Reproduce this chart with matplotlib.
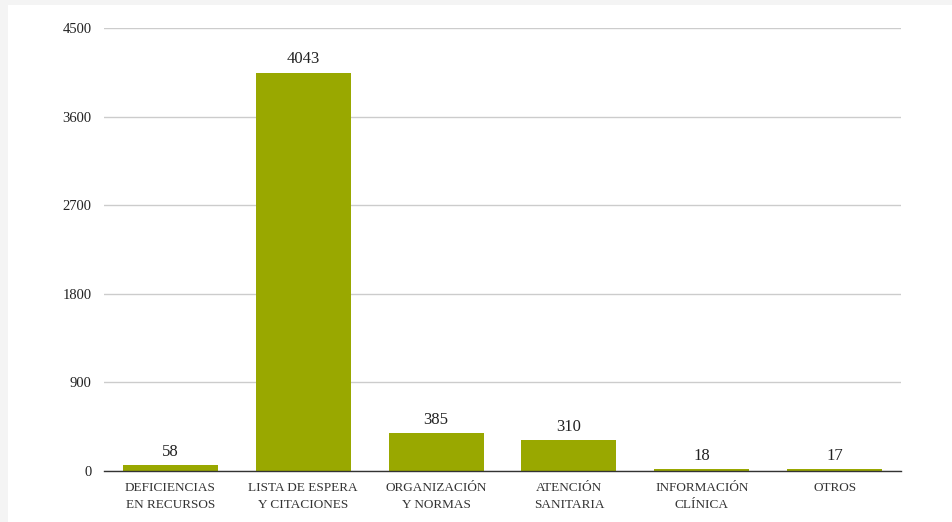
import matplotlib.pyplot as plt
from matplotlib.patches import Rectangle

categories = ["DEFICIENCIAS\nEN RECURSOS", "LISTA DE ESPERA\nY CITACIONES", "ORGANIZACIÓN\nY NORMAS",
              "ATENCIÓN\nSANITARIA", "INFORMACIÓN\nCLÍNICA", "OTROS"]
values = [58, 4043, 385, 310, 18, 17]
yticks = [0, 900, 1800, 2700, 3600, 4500]

plt.rcParams['font.family'] = ['Liberation Serif', 'DejaVu Serif']

fig = plt.figure(figsize=(9.53, 5.22), dpi=100, facecolor='#f4f4f4')
# white card behind the chart
fig.patches.append(Rectangle((8 / 953, 0), 1, 1 - 5 / 522, transform=fig.transFigure,
                             facecolor='white', edgecolor='none', zorder=-10))
ax = fig.add_axes([104 / 953, 1 - 471 / 522, 797 / 953, 443 / 522])
ax.set_facecolor('none')
ax.set_zorder(5)

x = range(len(categories))
bars = ax.bar(x, values, width=0.715, color='#99a800', zorder=3)
for b, v in zip(bars, values):
    ax.annotate(str(v), (b.get_x() + b.get_width() / 2, v), xytext=(0, 4),
                textcoords='offset points', ha='center', va='bottom',
                fontsize=12, color='#222222')

ax.set_xlim(-0.5, len(categories) - 0.5)
ax.set_ylim(0, 4500)
ax.set_yticks(yticks)
ax.set_yticklabels([str(t) for t in yticks], fontsize=10.5, color='#222222')
ax.set_xticks(list(x))
ax.set_xticklabels(categories, fontsize=9.5, color='#333333', linespacing=1.5)
ax.tick_params(axis='both', length=0)
ax.tick_params(axis='y', pad=9)
ax.tick_params(axis='x', pad=8)
ax.grid(axis='y', color='#cccccc', linewidth=1, zorder=0)
for s in ['top', 'right', 'left']:
    ax.spines[s].set_visible(False)
ax.spines['bottom'].set_color('#333333')
ax.spines['bottom'].set_linewidth(1)
ax.spines['bottom'].set_zorder(4)

fig.savefig('out.png', dpi=100, facecolor=fig.get_facecolor())
